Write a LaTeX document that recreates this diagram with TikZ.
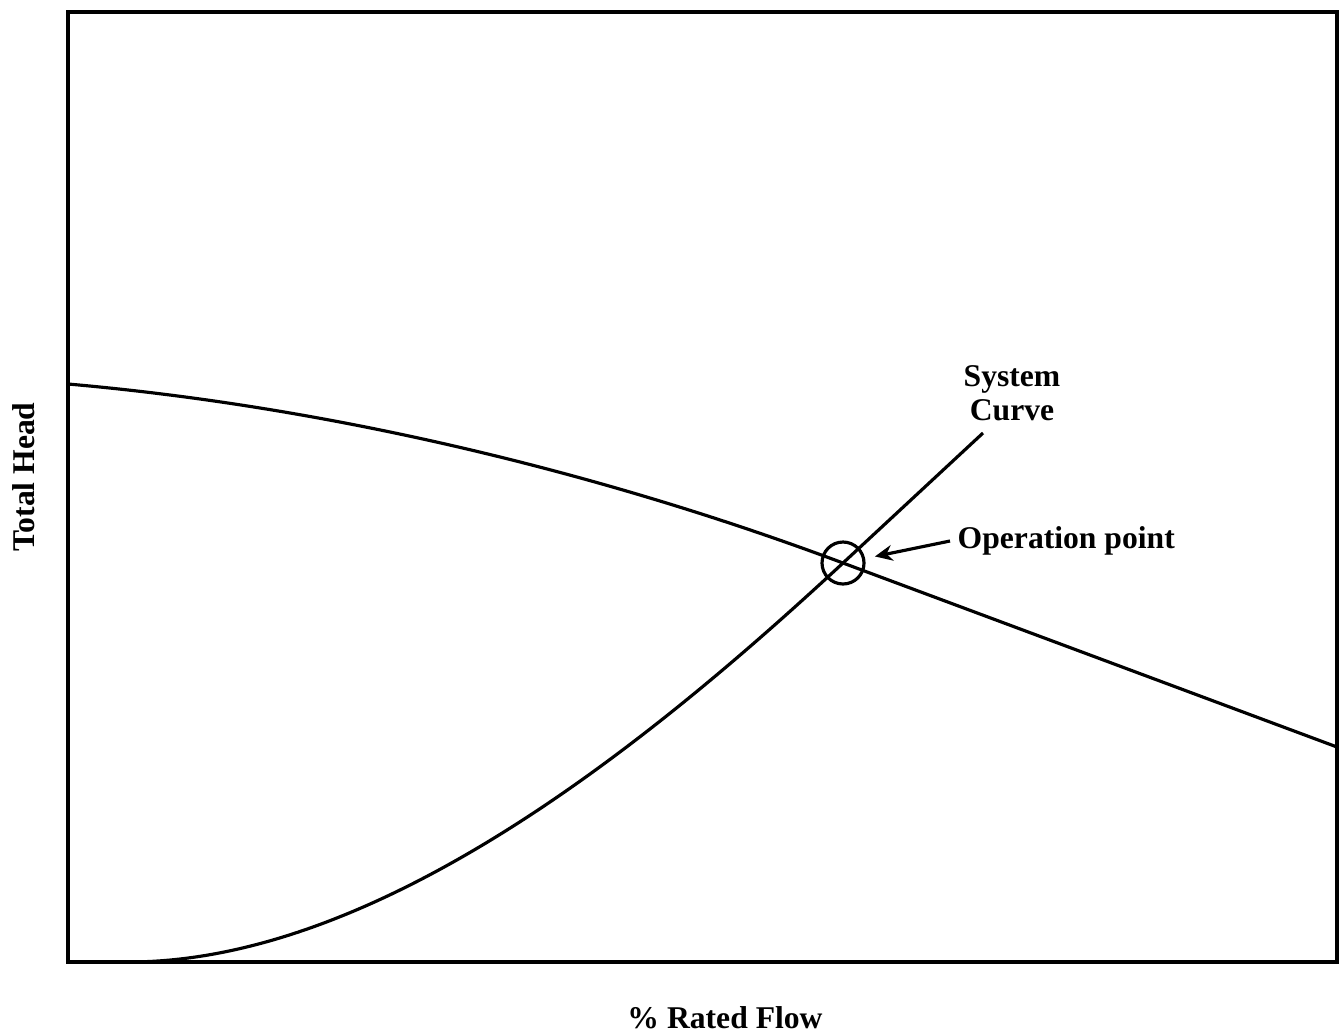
\documentclass[tikz,border=0pt]{standalone}
\usepackage{fontspec}
\setmainfont{Liberation Serif}
\usepackage{tikz}
\usetikzlibrary{calc,positioning,arrows.meta}

\tikzset{
  lbl/.style={font=\bfseries\fontsize{9}{9.7}\selectfont, inner sep=2pt},
  curve/.style={line width=0.9pt},
}

\begin{document}
\begin{tikzpicture}
\useasboundingbox (0,0) rectangle (13.40,10.32);

% axes frame
\draw [line width=1.1pt] (0.68,0.70) rectangle (13.37,10.20);
\node[lbl] (xlab) at (7.25,0.14) {\% Rated Flow};
\node[lbl, rotate=90] (ylab) at (0.24,5.55) {Total Head};

% operation point
\coordinate (op) at (8.43,4.69);
\node[draw, circle, line width=0.9pt, minimum size=0.42cm, inner sep=0pt] (opc) at (op) {};

% pump curve
\draw [curve] (0.68,6.48) .. controls (3.3,6.25) and (6.0,5.6) .. (op) -- (13.37,2.85);

% system curve
\coordinate (sysend) at (9.83,5.99);
\draw [curve] (1.28,0.70) .. controls (3.8,0.70) and (6.5,2.9) .. (op) -- (sysend);
\node[lbl, align=center] (sys) at (10.12,6.39) {System\\Curve};

\node[lbl, anchor=west] (oplab) at (9.50,4.91) {Operation point};
\draw [curve, -{Stealth[length=5pt,width=4.5pt]}, shorten >=0.1cm] (oplab.west) -- (opc);

\end{tikzpicture}
\end{document}
